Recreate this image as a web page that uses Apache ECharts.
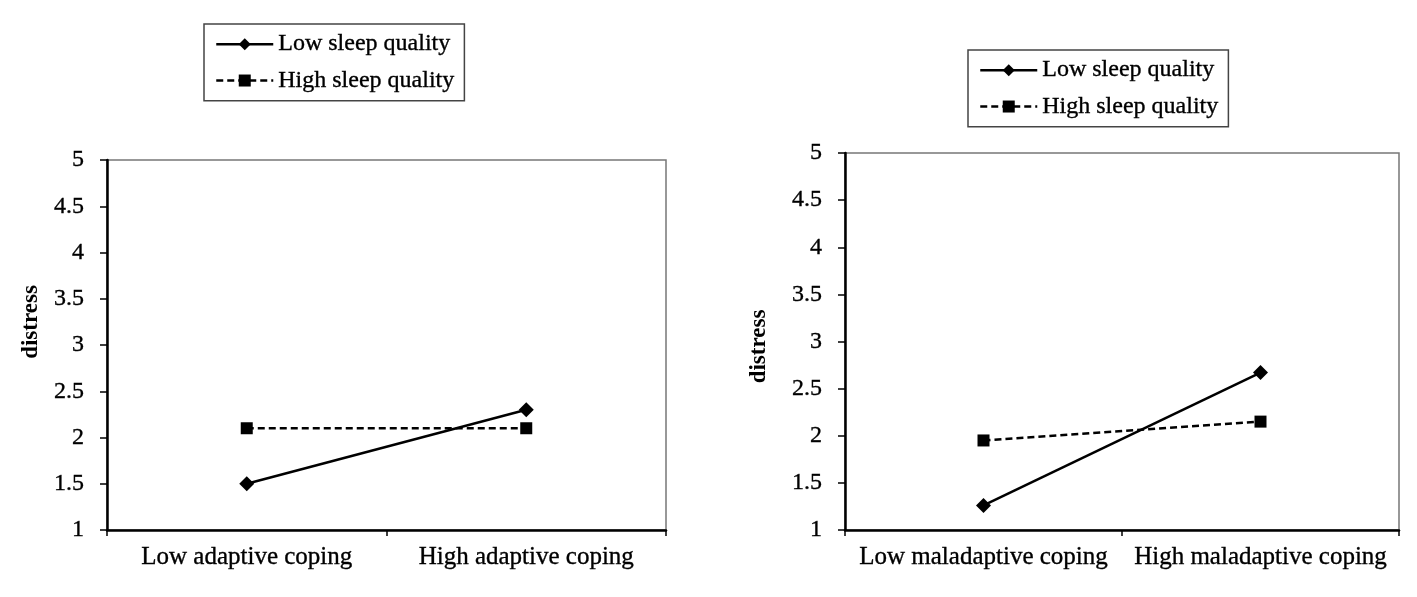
<!DOCTYPE html>
<html>
<head>
<meta charset="utf-8">
<script src="https://cdn.jsdelivr.net/npm/echarts@6/dist/echarts.min.js"></script>
<style>
html,body{margin:0;padding:0;background:#fff;}
#c{width:1417px;height:597px;}
</style>
</head>
<body>
<div id="c"></div>
<script>
const seriesNames = ['Low sleep quality', 'High sleep quality'];
const leftCategories = ['Low adaptive coping', 'High adaptive coping'];
const rightCategories = ['Low maladaptive coping', 'High maladaptive coping'];
const leftLow = [1.5, 2.3];
const leftHigh = [2.1, 2.1];
const rightLow = [1.26, 2.67];
const rightHigh = [1.95, 2.15];
const yMin = 1, yMax = 5, yStep = 0.5;
const yName = 'distress';

const FONT = '"Liberation Serif", "Times New Roman", serif';
const heavy = {textBorderColor: '#000', textBorderWidth: 0.35};

function xAxis(gi, cats) {
  return {
    type: 'category', gridIndex: gi, data: cats, boundaryGap: true,
    axisLine: {lineStyle: {color: '#000', width: 2.5}},
    axisTick: {show: true, length: 6, lineStyle: {color: '#000', width: 1.5}},
    axisLabel: Object.assign({color: '#000', fontFamily: FONT, fontSize: 25, margin: 15, interval: 0, hideOverlap: false}, heavy)
  };
}
function yAxis(gi, gap, pad) {
  return {
    type: 'value', gridIndex: gi, min: yMin, max: yMax, interval: yStep,
    name: yName, nameLocation: 'middle', nameGap: gap,
    nameTextStyle: {color: '#000', fontFamily: FONT, fontSize: 23, fontWeight: 'bold', padding: pad},
    axisLine: {show: true, lineStyle: {color: '#000', width: 2.5}},
    axisTick: {show: true, length: 7, lineStyle: {color: '#000', width: 1.5}},
    splitLine: {show: false},
    axisLabel: Object.assign({color: '#000', fontFamily: FONT, fontSize: 24, margin: 23}, heavy)
  };
}
function lowSeries(i, data) {
  return {
    name: seriesNames[0], type: 'line', xAxisIndex: i, yAxisIndex: i, data: data,
    symbol: 'diamond', symbolSize: 15,
    lineStyle: {color: '#000', width: 2.5, type: 'solid'},
    itemStyle: {color: '#000'}
  };
}
function highSeries(i, data) {
  return {
    name: seriesNames[1], type: 'line', xAxisIndex: i, yAxisIndex: i, data: data,
    symbol: 'rect', symbolSize: 12,
    lineStyle: {color: '#000', width: 2.5, type: [7, 4]},
    itemStyle: {color: '#000'}
  };
}
function legend(left, top) {
  return {
    data: seriesNames, orient: 'vertical', left: left, top: top,
    padding: [8, 10, 8, 11], itemGap: 12, itemWidth: 57, itemHeight: 15,
    borderColor: '#444', borderWidth: 1.5,
    lineStyle: {width: 2.5},
    textStyle: Object.assign({color: '#000', fontFamily: FONT, fontSize: 24}, heavy),
    selectedMode: false
  };
}

const chart = echarts.init(document.getElementById('c'));
chart.setOption({
  animation: false,
  backgroundColor: '#fff',
  legend: [legend(204, 24), legend(968, 50)],
  grid: [
    {left: 107, top: 160, right: 751, bottom: 67, show: true, borderColor: '#777', borderWidth: 1.5, backgroundColor: 'transparent'},
    {left: 845, top: 153, right: 18, bottom: 67, show: true, borderColor: '#777', borderWidth: 1.5, backgroundColor: 'transparent'}
  ],
  xAxis: [xAxis(0, leftCategories), xAxis(1, rightCategories)],
  yAxis: [yAxis(0, 64, [0, 0, 0, 46]), yAxis(1, 74, [0, 10, 0, 0])],
  series: [
    lowSeries(0, leftLow), highSeries(0, leftHigh),
    lowSeries(1, rightLow), highSeries(1, rightHigh)
  ]
});
</script>
</body>
</html>
